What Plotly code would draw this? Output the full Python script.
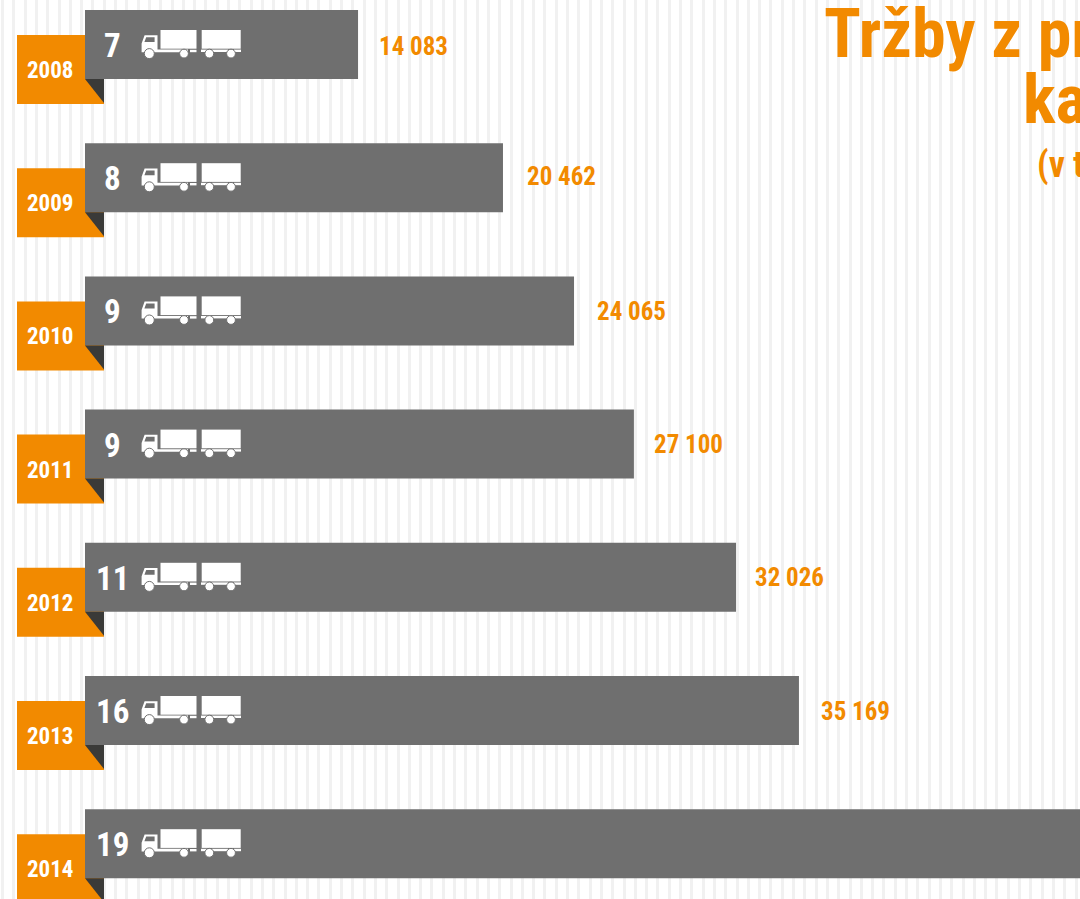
import base64
import plotly.graph_objects as go

# ---- data ----
years = [2008, 2009, 2010, 2011, 2012, 2013, 2014]
truck_counts = [7, 8, 9, 9, 11, 16, 19]
revenue_labels = ["14 083", "20 462", "24 065", "27 100", "32 026", "35 169", ""]
bar_lengths = [13450, 20590, 24090, 27040, 32070, 35170, 52000]
title_lines = ["Tržby z pronájmu", "kamionů", "(v tis. Kč)"]

# ---- layout constants ----
W, H = 1080, 899
PX_PER_UNIT = 0.0203
BAR_LEFT = 85
ROW_PITCH = 133.2
ROW0_CENTER = 44.5
BAR_H = 69
ORANGE = "#f28a00"
GREY = "#6f6f6f"
DARK = "#3a3a38"
FONT = "Liberation Sans Narrow, Arial Narrow, Roboto Condensed, sans-serif"
label_gaps_px = [18.5, 22.5, 20.5, 18.5, 16.5, 20.5]
label_dy_px = [1.5, -1.5, 0.5, 0.5, 0.5, 0.5]


def xu(px):
    return (px - BAR_LEFT) / PX_PER_UNIT


def yu(px):
    return years[0] + (px - ROW0_CENTER) / ROW_PITCH


def du(px):
    return px / ROW_PITCH


truck_svg = f"""<svg xmlns='http://www.w3.org/2000/svg' viewBox='0 0 100 30' width='400' height='120'>
<g fill='#ffffff'>
<rect x='19.5' y='1' width='36' height='18.7'/>
<rect x='60.7' y='1' width='39' height='18.7'/>
<path fill-rule='evenodd' d='M0.6 23.2 V14.5 L3.6 6.2 H16.5 V20.6 H47 V23.2 Z M3.4 13 H13.6 V8.2 H5.2 Z'/>
<rect x='49' y='20.8' width='6.5' height='2.4'/>
<rect x='60' y='20.6' width='6' height='2.4'/>
<rect x='71' y='20.6' width='16' height='2.4'/>
<rect x='93' y='20.6' width='7' height='2.4'/>
<g stroke='{GREY}' stroke-width='1'>
<circle cx='8.3' cy='24.6' r='5'/>
<circle cx='43' cy='24.6' r='4.4'/>
<circle cx='68.3' cy='24.6' r='4.4'/>
<circle cx='90' cy='24.6' r='4.4'/>
</g>
</g></svg>"""
truck_uri = "data:image/svg+xml;base64," + base64.b64encode(truck_svg.encode("utf-8")).decode()

fig = go.Figure()

# orange year tags
fig.add_trace(go.Bar(
    y=years, x=[xu(104) - xu(17)] * len(years), base=xu(17), orientation="h",
    width=du(BAR_H), offset=du(-9.5), marker=dict(color=ORANGE, line_width=0),
    hoverinfo="skip", showlegend=False,
))
# grey bars
fig.add_trace(go.Bar(
    y=years, x=bar_lengths, base=0, orientation="h",
    width=du(BAR_H), offset=du(-BAR_H / 2), marker=dict(color=GREY, line_width=0),
    showlegend=False,
))

shapes, images, annotations = [], [], []
for i, y in enumerate(years):
    bar_bottom = y + du(BAR_H / 2)
    shapes.append(dict(
        type="path", xref="x", yref="y", layer="above", line_width=0, fillcolor=DARK,
        path=f"M {xu(85)} {bar_bottom} L {xu(104)} {bar_bottom} L {xu(104)} {bar_bottom + du(24)} Z",
    ))
    images.append(dict(
        source=truck_uri, xref="x", yref="y", x=xu(141), y=y - du(15.5),
        sizex=100 / PX_PER_UNIT, sizey=du(30), sizing="stretch",
        xanchor="left", yanchor="top", layer="above",
    ))
    annotations.append(dict(
        x=xu(112.5), y=y + du(1), text=f"<b>{truck_counts[i]}</b>", showarrow=False,
        font=dict(family=FONT, size=33, color="#ffffff"), xanchor="center", yanchor="middle",
    ))
    annotations.append(dict(
        x=xu(50), y=y + du(26), text=f"<b>{y}</b>", showarrow=False,
        font=dict(family=FONT, size=23, color="#ffffff"), xanchor="center", yanchor="middle",
    ))
    if revenue_labels[i]:
        annotations.append(dict(
            x=bar_lengths[i] + label_gaps_px[i] / PX_PER_UNIT, y=y + du(label_dy_px[i]),
            text=f"<b>{revenue_labels[i]}</b>", showarrow=False,
            font=dict(family=FONT, size=25, color=ORANGE), xanchor="left", yanchor="middle",
        ))

title_pos = [(825, 34, 68), (1024, 100, 68), (1038, 165, 36)]
for line, (px, py, size) in zip(title_lines, title_pos):
    annotations.append(dict(
        x=xu(px), y=yu(py), text=f"<b>{line}</b>", showarrow=False,
        font=dict(family=FONT, size=size, color=ORANGE), xanchor="left", yanchor="middle",
        xshift=-3,
    ))

fig.update_layout(
    width=W, height=H, margin=dict(l=0, r=0, t=0, b=0),
    paper_bgcolor="#ffffff", plot_bgcolor="#ffffff",
    barmode="overlay", shapes=shapes, images=images, annotations=annotations,
    font=dict(family=FONT),
    xaxis=dict(
        range=[xu(0), xu(W)], showticklabels=False, ticks="", zeroline=False, showline=False,
        showgrid=True, gridcolor="#f1f1f1", gridwidth=3,
        tick0=xu(2.5), dtick=11.3 / PX_PER_UNIT, tickmode="linear",
    ),
    yaxis=dict(
        range=[yu(H), yu(0)], showticklabels=False, ticks="", zeroline=False,
        showline=False, showgrid=False,
    ),
)
fig.write_html(
    "out.html", config={"displayModeBar": False},
    post_script="document.body.style.margin='0';document.documentElement.style.overflow='hidden';",
)
